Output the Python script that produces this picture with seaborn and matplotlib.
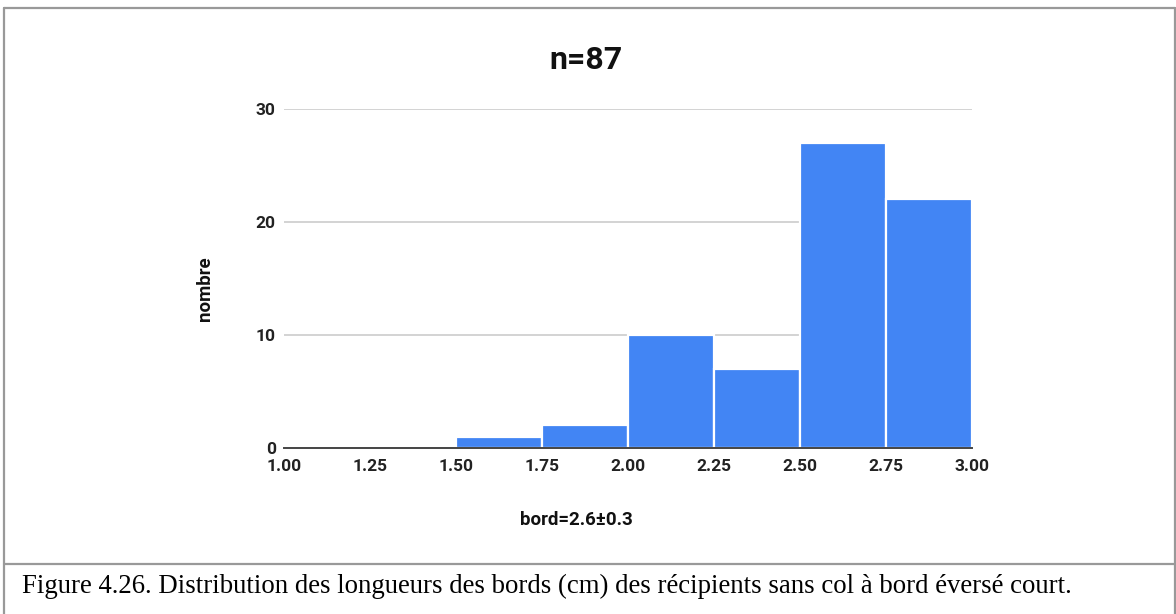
import numpy as np
import seaborn as sns
import matplotlib.pyplot as plt
from matplotlib.lines import Line2D

# Input data
bin_edges = [1.00, 1.25, 1.50, 1.75, 2.00, 2.25, 2.50, 2.75, 3.00]
counts = [0, 0, 1, 2, 10, 7, 27, 22]
x_ticks = [1.00, 1.25, 1.50, 1.75, 2.00, 2.25, 2.50, 2.75, 3.00]
y_ticks = [0, 10, 20, 30]

title = "n=87"
x_label = "bord=2.6\u00b10.3"
y_label = "nombre"
caption = ("Figure 4.26. Distribution des longueurs des bords (cm) des r\u00e9cipients "
           "sans col \u00e0 bord \u00e9vers\u00e9 court.")

bin_centers = [(a + b) / 2 for a, b in zip(bin_edges[:-1], bin_edges[1:])]

sns.set_style("white")
plt.rcParams["font.family"] = ["Roboto", "DejaVu Sans"]

fig = plt.figure(figsize=(11.76, 6.14), dpi=100)
ax = fig.add_axes([284 / 1176, 1 - 448 / 614, (972 - 284) / 1176, (448 - 109) / 614])

sns.histplot(
    x=bin_centers,
    weights=counts,
    bins=bin_edges,
    color="#4285f4",
    alpha=1,
    edgecolor="white",
    linewidth=1.6,
    ax=ax,
)

ax.set_xlim(1.0, 3.0)
ax.set_ylim(0, 30)
ax.set_xticks(x_ticks)
ax.set_xticklabels([f"{t:.2f}" for t in x_ticks])
ax.set_yticks(y_ticks)
ax.set_yticklabels([str(t) for t in y_ticks])
ax.tick_params(axis="both", length=0, labelsize=12.5, colors="#222222")
ax.tick_params(axis="y", pad=6)
ax.tick_params(axis="x", pad=8)
for lbl in ax.get_xticklabels() + ax.get_yticklabels():
    lbl.set_fontweight("bold")

ax.set_xlabel("")
ax.set_ylabel("")
ax.yaxis.grid(True, color="#cccccc", linewidth=1.2)
ax.set_axisbelow(True)
for s in ["top", "right", "left"]:
    ax.spines[s].set_visible(False)
ax.spines["bottom"].set_color("#444444")
ax.spines["bottom"].set_linewidth(1.4)
ax.spines["bottom"].set_zorder(5)

fig.text(586 / 1176, 1 - 60 / 614, title, ha="center", va="center",
         fontsize=23, fontweight="bold", color="#111111")
fig.text(576 / 1176, 1 - 520 / 614, x_label, ha="center", va="center",
         fontsize=13.5, fontweight="bold", color="#111111")
fig.text(205 / 1176, 1 - 289 / 614, y_label, ha="center", va="center",
         rotation=90, fontsize=13.5, fontweight="bold", color="#111111")
fig.text(22 / 1176, 1 - 586 / 614, caption, ha="left", va="center",
         fontsize=19.3, family=["Liberation Serif", "DejaVu Serif"], color="#000000")

# table-like frame around the figure
frame = dict(color="#999999", linewidth=1.6, transform=fig.transFigure)
fig.add_artist(Line2D([4 / 1176, 1174.5 / 1176], [1 - 7.5 / 614] * 2, **frame))
fig.add_artist(Line2D([4 / 1176, 1174.5 / 1176], [1 - 563.5 / 614] * 2, **frame))
fig.add_artist(Line2D([4 / 1176] * 2, [0, 1 - 7.5 / 614], **frame))
fig.add_artist(Line2D([1174.5 / 1176] * 2, [0, 1 - 7.5 / 614], **frame))

fig.savefig("out.png", dpi=100)
